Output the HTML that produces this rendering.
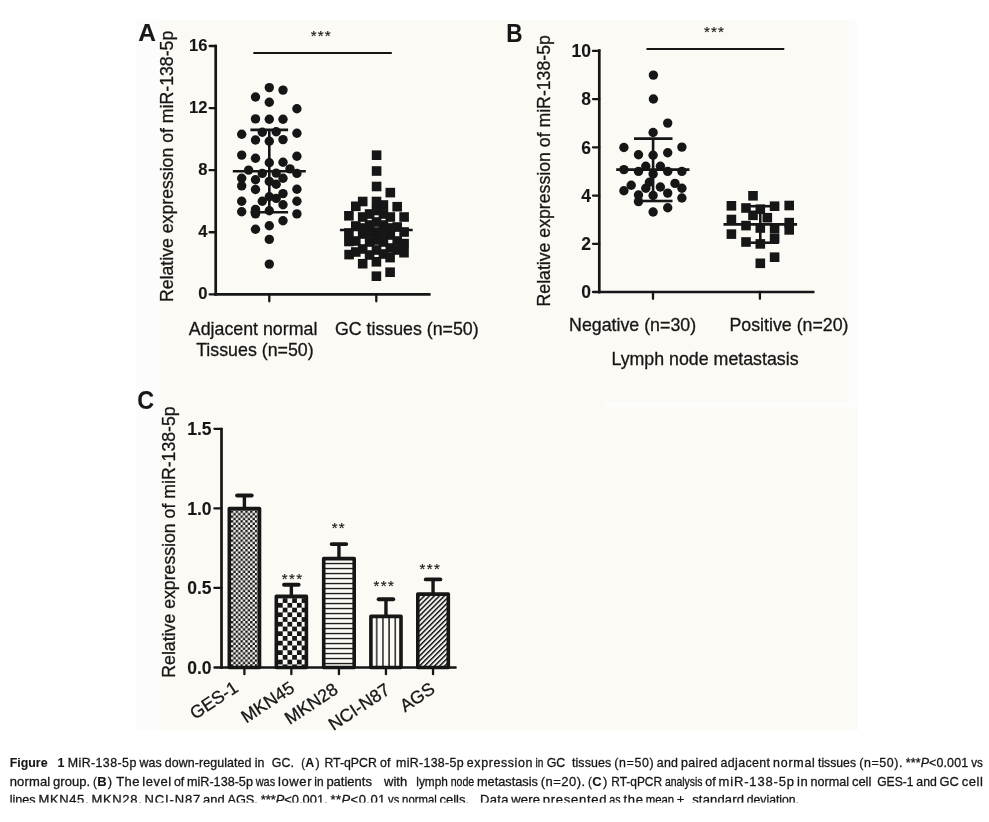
<!DOCTYPE html>
<html><head><meta charset="utf-8"><style>
html,body{margin:0;padding:0;background:#ffffff;width:989px;height:822px;overflow:hidden;}
svg{display:block;will-change:transform;}
text{font-family:"Liberation Sans",sans-serif;fill:#161616;stroke:#161616;stroke-width:0.3px;}
text[font-weight="bold"]{stroke-width:0.1px;}
</style></head><body>
<svg width="989" height="822" viewBox="0 0 989 822">
<rect x="136" y="20" width="721" height="709.4" fill="#fcfcfd"/>
<rect x="160" y="20" width="688" height="382.6" fill="#fcfaf5"/>
<rect x="160" y="402.6" width="697.5" height="327.6" fill="#fcfaf5"/>
<rect x="605.5" y="402.6" width="252" height="5.2" fill="#fdfdfb"/>
<text x="138.2" y="40.8" font-size="24.5" font-weight="bold" text-anchor="start" >A</text>
<line x1="215.7" y1="44.7" x2="215.7" y2="295.6" stroke="#161616" stroke-width="2.7" stroke-linecap="butt"/>
<line x1="209.6" y1="294.3" x2="215.7" y2="294.3" stroke="#161616" stroke-width="2.3" stroke-linecap="round"/>
<text x="207.5" y="299.40000000000003" font-size="16.6" font-weight="bold" text-anchor="end" >0</text>
<line x1="209.6" y1="232.23000000000002" x2="215.7" y2="232.23000000000002" stroke="#161616" stroke-width="2.3" stroke-linecap="round"/>
<text x="207.5" y="237.33" font-size="16.6" font-weight="bold" text-anchor="end" >4</text>
<line x1="209.6" y1="170.16000000000003" x2="215.7" y2="170.16000000000003" stroke="#161616" stroke-width="2.3" stroke-linecap="round"/>
<text x="207.5" y="175.26000000000002" font-size="16.6" font-weight="bold" text-anchor="end" >8</text>
<line x1="209.6" y1="108.09" x2="215.7" y2="108.09" stroke="#161616" stroke-width="2.3" stroke-linecap="round"/>
<text x="207.5" y="113.19" font-size="16.6" font-weight="bold" text-anchor="end" >12</text>
<line x1="209.6" y1="46.02000000000001" x2="215.7" y2="46.02000000000001" stroke="#161616" stroke-width="2.3" stroke-linecap="round"/>
<text x="207.5" y="51.12000000000001" font-size="16.6" font-weight="bold" text-anchor="end" >16</text>
<line x1="214.4" y1="294.3" x2="430.6" y2="294.3" stroke="#161616" stroke-width="2.7" stroke-linecap="butt"/>
<line x1="269.3" y1="294.3" x2="269.3" y2="301.3" stroke="#161616" stroke-width="2.3" stroke-linecap="round"/>
<line x1="376.3" y1="294.3" x2="376.3" y2="301.3" stroke="#161616" stroke-width="2.3" stroke-linecap="round"/>
<line x1="253.3" y1="53.0" x2="391.8" y2="53.0" stroke="#161616" stroke-width="2.2" stroke-linecap="butt"/>
<text x="310.8" y="40.8" font-size="15.2" font-weight="normal" text-anchor="start" letter-spacing="1.1" style="stroke-width:0.15px">***</text>
<text transform="translate(173.2,166.4) rotate(-90)" font-size="17.7" text-anchor="middle">Relative expression of miR-138-5p</text>
<text x="253.1" y="334.9" font-size="17.8" font-weight="normal" text-anchor="middle" >Adjacent normal</text>
<text x="254.9" y="355.6" font-size="17.8" font-weight="normal" text-anchor="middle" >Tissues (n=50)</text>
<text x="406.8" y="334.9" font-size="17.8" font-weight="normal" text-anchor="middle" >GC tissues (n=50)</text>
<circle cx="269.3" cy="87.6" r="4.7" fill="#161616"/>
<circle cx="283.0" cy="90.1" r="4.7" fill="#161616"/>
<circle cx="255.5" cy="97.0" r="4.7" fill="#161616"/>
<circle cx="269.3" cy="102.2" r="4.7" fill="#161616"/>
<circle cx="296.9" cy="108.7" r="4.7" fill="#161616"/>
<circle cx="255.5" cy="118.9" r="4.7" fill="#161616"/>
<circle cx="269.3" cy="119.3" r="4.7" fill="#161616"/>
<circle cx="283.0" cy="119.3" r="4.7" fill="#161616"/>
<circle cx="262.3" cy="132.3" r="4.7" fill="#161616"/>
<circle cx="276.2" cy="131.8" r="4.7" fill="#161616"/>
<circle cx="241.7" cy="134.2" r="4.7" fill="#161616"/>
<circle cx="296.9" cy="133.3" r="4.7" fill="#161616"/>
<circle cx="255.5" cy="140" r="4.7" fill="#161616"/>
<circle cx="269.3" cy="141.2" r="4.7" fill="#161616"/>
<circle cx="283.0" cy="139.6" r="4.7" fill="#161616"/>
<circle cx="241.7" cy="155.1" r="4.7" fill="#161616"/>
<circle cx="255.5" cy="158.3" r="4.7" fill="#161616"/>
<circle cx="296.9" cy="156.3" r="4.7" fill="#161616"/>
<circle cx="269.3" cy="162.8" r="4.7" fill="#161616"/>
<circle cx="283.0" cy="162.2" r="4.7" fill="#161616"/>
<circle cx="248.6" cy="170.1" r="4.7" fill="#161616"/>
<circle cx="290.0" cy="168.9" r="4.7" fill="#161616"/>
<circle cx="262.3" cy="173.4" r="4.7" fill="#161616"/>
<circle cx="276.2" cy="173.1" r="4.7" fill="#161616"/>
<circle cx="296.9" cy="173.4" r="4.7" fill="#161616"/>
<circle cx="241.7" cy="178.2" r="4.7" fill="#161616"/>
<circle cx="255.5" cy="179.8" r="4.7" fill="#161616"/>
<circle cx="283.0" cy="178.2" r="4.7" fill="#161616"/>
<circle cx="269.3" cy="181.4" r="4.7" fill="#161616"/>
<circle cx="276.2" cy="184.3" r="4.7" fill="#161616"/>
<circle cx="241.7" cy="185.9" r="4.7" fill="#161616"/>
<circle cx="255.5" cy="189.5" r="4.7" fill="#161616"/>
<circle cx="296.9" cy="189.2" r="4.7" fill="#161616"/>
<circle cx="283.0" cy="193.6" r="4.7" fill="#161616"/>
<circle cx="269.3" cy="196.8" r="4.7" fill="#161616"/>
<circle cx="276.2" cy="198.4" r="4.7" fill="#161616"/>
<circle cx="262.3" cy="201.3" r="4.7" fill="#161616"/>
<circle cx="241.7" cy="201.3" r="4.7" fill="#161616"/>
<circle cx="296.9" cy="201.3" r="4.7" fill="#161616"/>
<circle cx="283.0" cy="204.7" r="4.7" fill="#161616"/>
<circle cx="255.5" cy="209.4" r="4.7" fill="#161616"/>
<circle cx="241.7" cy="211.8" r="4.7" fill="#161616"/>
<circle cx="255.5" cy="213.9" r="4.7" fill="#161616"/>
<circle cx="269.3" cy="210.8" r="4.7" fill="#161616"/>
<circle cx="296.9" cy="213.9" r="4.7" fill="#161616"/>
<circle cx="283.0" cy="220.8" r="4.7" fill="#161616"/>
<circle cx="269.3" cy="225.7" r="4.7" fill="#161616"/>
<circle cx="255.5" cy="229.3" r="4.7" fill="#161616"/>
<circle cx="269.3" cy="239.4" r="4.7" fill="#161616"/>
<circle cx="269.3" cy="264.1" r="4.7" fill="#161616"/>
<line x1="232.8" y1="171.3" x2="305.8" y2="171.3" stroke="#161616" stroke-width="2.6" stroke-linecap="butt"/>
<line x1="250.4" y1="129.9" x2="288.1" y2="129.9" stroke="#161616" stroke-width="2.6" stroke-linecap="butt"/>
<line x1="250.4" y1="212.3" x2="288.1" y2="212.3" stroke="#161616" stroke-width="2.6" stroke-linecap="butt"/>
<line x1="269.3" y1="129.9" x2="269.3" y2="212.3" stroke="#161616" stroke-width="2.6" stroke-linecap="butt"/>
<rect x="371.80" y="150.40" width="9.6" height="9.6" fill="#161616"/>
<rect x="371.80" y="166.20" width="9.6" height="9.6" fill="#161616"/>
<rect x="371.80" y="181.70" width="9.6" height="9.6" fill="#161616"/>
<rect x="385.50" y="187.80" width="9.6" height="9.6" fill="#161616"/>
<rect x="357.90" y="196.70" width="9.6" height="9.6" fill="#161616"/>
<rect x="371.70" y="196.70" width="9.6" height="9.6" fill="#161616"/>
<rect x="351.00" y="201.50" width="9.6" height="9.6" fill="#161616"/>
<rect x="392.40" y="201.90" width="9.6" height="9.6" fill="#161616"/>
<rect x="378.60" y="200.20" width="9.6" height="9.6" fill="#161616"/>
<rect x="344.10" y="211.00" width="9.6" height="9.6" fill="#161616"/>
<rect x="399.30" y="212.20" width="9.6" height="9.6" fill="#161616"/>
<rect x="364.80" y="209.20" width="9.6" height="9.6" fill="#161616"/>
<rect x="378.60" y="209.20" width="9.6" height="9.6" fill="#161616"/>
<rect x="357.90" y="212.20" width="9.6" height="9.6" fill="#161616"/>
<rect x="385.50" y="212.20" width="9.6" height="9.6" fill="#161616"/>
<rect x="351.00" y="221.20" width="9.6" height="9.6" fill="#161616"/>
<rect x="392.40" y="222.20" width="9.6" height="9.6" fill="#161616"/>
<rect x="364.80" y="220.20" width="9.6" height="9.6" fill="#161616"/>
<rect x="378.60" y="220.20" width="9.6" height="9.6" fill="#161616"/>
<rect x="371.70" y="217.20" width="9.6" height="9.6" fill="#161616"/>
<rect x="344.10" y="228.20" width="9.6" height="9.6" fill="#161616"/>
<rect x="399.30" y="227.20" width="9.6" height="9.6" fill="#161616"/>
<rect x="357.90" y="229.20" width="9.6" height="9.6" fill="#161616"/>
<rect x="371.70" y="227.20" width="9.6" height="9.6" fill="#161616"/>
<rect x="385.50" y="230.20" width="9.6" height="9.6" fill="#161616"/>
<rect x="351.00" y="236.20" width="9.6" height="9.6" fill="#161616"/>
<rect x="392.40" y="236.20" width="9.6" height="9.6" fill="#161616"/>
<rect x="364.80" y="237.20" width="9.6" height="9.6" fill="#161616"/>
<rect x="378.60" y="237.20" width="9.6" height="9.6" fill="#161616"/>
<rect x="344.10" y="236.70" width="9.6" height="9.6" fill="#161616"/>
<rect x="399.30" y="238.80" width="9.6" height="9.6" fill="#161616"/>
<rect x="357.90" y="244.20" width="9.6" height="9.6" fill="#161616"/>
<rect x="385.50" y="243.20" width="9.6" height="9.6" fill="#161616"/>
<rect x="371.70" y="245.20" width="9.6" height="9.6" fill="#161616"/>
<rect x="344.30" y="249.80" width="9.6" height="9.6" fill="#161616"/>
<rect x="399.20" y="247.90" width="9.6" height="9.6" fill="#161616"/>
<rect x="351.00" y="247.20" width="9.6" height="9.6" fill="#161616"/>
<rect x="392.40" y="245.20" width="9.6" height="9.6" fill="#161616"/>
<rect x="357.90" y="258.90" width="9.6" height="9.6" fill="#161616"/>
<rect x="371.60" y="257.00" width="9.6" height="9.6" fill="#161616"/>
<rect x="385.30" y="252.80" width="9.6" height="9.6" fill="#161616"/>
<rect x="371.60" y="271.40" width="9.6" height="9.6" fill="#161616"/>
<rect x="385.30" y="267.40" width="9.6" height="9.6" fill="#161616"/>
<rect x="364.80" y="250.20" width="9.6" height="9.6" fill="#161616"/>
<rect x="378.60" y="249.20" width="9.6" height="9.6" fill="#161616"/>
<rect x="357.90" y="223.20" width="9.6" height="9.6" fill="#161616"/>
<rect x="385.50" y="223.20" width="9.6" height="9.6" fill="#161616"/>
<rect x="371.70" y="235.20" width="9.6" height="9.6" fill="#161616"/>
<rect x="364.80" y="228.20" width="9.6" height="9.6" fill="#161616"/>
<rect x="378.60" y="228.20" width="9.6" height="9.6" fill="#161616"/>
<rect x="371.70" y="205.70" width="9.6" height="9.6" fill="#161616"/>
<line x1="339.9" y1="230.0" x2="412.7" y2="230.0" stroke="#161616" stroke-width="2.6" stroke-linecap="butt"/>
<text transform="translate(506.3,41.9) scale(0.92,1.04)" font-size="24.5" font-weight="bold">B</text>
<line x1="599.3" y1="49.2" x2="599.3" y2="293.3" stroke="#161616" stroke-width="2.7" stroke-linecap="butt"/>
<line x1="593.0" y1="292.0" x2="599.3" y2="292.0" stroke="#161616" stroke-width="2.3" stroke-linecap="round"/>
<text x="591.0" y="298.27" font-size="17.5" font-weight="bold" text-anchor="end" >0</text>
<line x1="593.0" y1="243.78" x2="599.3" y2="243.78" stroke="#161616" stroke-width="2.3" stroke-linecap="round"/>
<text x="591.0" y="250.05" font-size="17.5" font-weight="bold" text-anchor="end" >2</text>
<line x1="593.0" y1="195.56" x2="599.3" y2="195.56" stroke="#161616" stroke-width="2.3" stroke-linecap="round"/>
<text x="591.0" y="201.83" font-size="17.5" font-weight="bold" text-anchor="end" >4</text>
<line x1="593.0" y1="147.34" x2="599.3" y2="147.34" stroke="#161616" stroke-width="2.3" stroke-linecap="round"/>
<text x="591.0" y="153.61" font-size="17.5" font-weight="bold" text-anchor="end" >6</text>
<line x1="593.0" y1="99.12" x2="599.3" y2="99.12" stroke="#161616" stroke-width="2.3" stroke-linecap="round"/>
<text x="591.0" y="105.39" font-size="17.5" font-weight="bold" text-anchor="end" >8</text>
<line x1="593.0" y1="50.900000000000006" x2="599.3" y2="50.900000000000006" stroke="#161616" stroke-width="2.3" stroke-linecap="round"/>
<text x="591.0" y="57.17" font-size="17.5" font-weight="bold" text-anchor="end" >10</text>
<line x1="598.0" y1="292.0" x2="814.5" y2="292.0" stroke="#161616" stroke-width="2.7" stroke-linecap="butt"/>
<line x1="653.0" y1="292.0" x2="653.0" y2="298.8" stroke="#161616" stroke-width="2.3" stroke-linecap="round"/>
<line x1="759.9" y1="292.0" x2="759.9" y2="298.8" stroke="#161616" stroke-width="2.3" stroke-linecap="round"/>
<line x1="646.5" y1="49.0" x2="784.3" y2="49.0" stroke="#161616" stroke-width="2.2" stroke-linecap="butt"/>
<text x="703.9" y="37.1" font-size="15.2" font-weight="normal" text-anchor="start" letter-spacing="1.1" style="stroke-width:0.15px">***</text>
<text transform="translate(549.5,170.8) rotate(-90)" font-size="17.7" text-anchor="middle">Relative expression of miR-138-5p</text>
<text x="632.6" y="330.9" font-size="17.8" font-weight="normal" text-anchor="middle" >Negative (n=30)</text>
<text x="789.0" y="330.7" font-size="17.8" font-weight="normal" text-anchor="middle" >Positive (n=20)</text>
<text x="705.0" y="364.6" font-size="17.8" font-weight="normal" text-anchor="middle" >Lymph node metastasis</text>
<circle cx="653.4" cy="75.1" r="4.7" fill="#161616"/>
<circle cx="653.4" cy="99" r="4.7" fill="#161616"/>
<circle cx="667.7" cy="123.1" r="4.7" fill="#161616"/>
<circle cx="653.1" cy="132.5" r="4.7" fill="#161616"/>
<circle cx="623.9" cy="147.5" r="4.7" fill="#161616"/>
<circle cx="681.9" cy="147.1" r="4.7" fill="#161616"/>
<circle cx="638.5" cy="154.8" r="4.7" fill="#161616"/>
<circle cx="653.1" cy="155.3" r="4.7" fill="#161616"/>
<circle cx="667.7" cy="152.8" r="4.7" fill="#161616"/>
<circle cx="623.9" cy="169.6" r="4.7" fill="#161616"/>
<circle cx="645.8" cy="166.2" r="4.7" fill="#161616"/>
<circle cx="660.4" cy="166.2" r="4.7" fill="#161616"/>
<circle cx="638.5" cy="171.4" r="4.7" fill="#161616"/>
<circle cx="667.7" cy="171.4" r="4.7" fill="#161616"/>
<circle cx="681.9" cy="171.4" r="4.7" fill="#161616"/>
<circle cx="653.1" cy="173.9" r="4.7" fill="#161616"/>
<circle cx="631.2" cy="185.2" r="4.7" fill="#161616"/>
<circle cx="623.9" cy="190.7" r="4.7" fill="#161616"/>
<circle cx="645.8" cy="188.2" r="4.7" fill="#161616"/>
<circle cx="649.4" cy="182.2" r="4.7" fill="#161616"/>
<circle cx="660.4" cy="187" r="4.7" fill="#161616"/>
<circle cx="675" cy="183.4" r="4.7" fill="#161616"/>
<circle cx="681.9" cy="188.2" r="4.7" fill="#161616"/>
<circle cx="638.5" cy="195" r="4.7" fill="#161616"/>
<circle cx="653.1" cy="195.5" r="4.7" fill="#161616"/>
<circle cx="667.7" cy="193.1" r="4.7" fill="#161616"/>
<circle cx="681.9" cy="198" r="4.7" fill="#161616"/>
<circle cx="638.5" cy="201.6" r="4.7" fill="#161616"/>
<circle cx="653.1" cy="212" r="4.7" fill="#161616"/>
<circle cx="667.7" cy="207.7" r="4.7" fill="#161616"/>
<line x1="616.2" y1="169.6" x2="689.5" y2="169.6" stroke="#161616" stroke-width="2.6" stroke-linecap="butt"/>
<line x1="634.0" y1="138.6" x2="672.5" y2="138.6" stroke="#161616" stroke-width="2.6" stroke-linecap="butt"/>
<line x1="641.5" y1="201.0" x2="672.5" y2="201.0" stroke="#161616" stroke-width="2.6" stroke-linecap="butt"/>
<line x1="653.1" y1="138.6" x2="653.1" y2="201.0" stroke="#161616" stroke-width="2.6" stroke-linecap="butt"/>
<rect x="748.20" y="191.00" width="9.6" height="9.6" fill="#161616"/>
<rect x="726.60" y="201.00" width="9.6" height="9.6" fill="#161616"/>
<rect x="769.80" y="201.40" width="9.6" height="9.6" fill="#161616"/>
<rect x="784.40" y="200.70" width="9.6" height="9.6" fill="#161616"/>
<rect x="741.20" y="203.20" width="9.6" height="9.6" fill="#161616"/>
<rect x="755.50" y="204.40" width="9.6" height="9.6" fill="#161616"/>
<rect x="748.20" y="210.50" width="9.6" height="9.6" fill="#161616"/>
<rect x="762.50" y="212.90" width="9.6" height="9.6" fill="#161616"/>
<rect x="726.60" y="214.70" width="9.6" height="9.6" fill="#161616"/>
<rect x="784.40" y="217.80" width="9.6" height="9.6" fill="#161616"/>
<rect x="784.40" y="225.10" width="9.6" height="9.6" fill="#161616"/>
<rect x="741.20" y="220.80" width="9.6" height="9.6" fill="#161616"/>
<rect x="755.50" y="223.20" width="9.6" height="9.6" fill="#161616"/>
<rect x="769.80" y="223.90" width="9.6" height="9.6" fill="#161616"/>
<rect x="769.80" y="233.60" width="9.6" height="9.6" fill="#161616"/>
<rect x="726.60" y="229.30" width="9.6" height="9.6" fill="#161616"/>
<rect x="741.20" y="237.20" width="9.6" height="9.6" fill="#161616"/>
<rect x="755.50" y="239.10" width="9.6" height="9.6" fill="#161616"/>
<rect x="769.80" y="252.40" width="9.6" height="9.6" fill="#161616"/>
<rect x="755.50" y="258.50" width="9.6" height="9.6" fill="#161616"/>
<line x1="723.5" y1="224.4" x2="797.1" y2="224.4" stroke="#161616" stroke-width="2.6" stroke-linecap="butt"/>
<line x1="750.3" y1="206.2" x2="778.9" y2="206.2" stroke="#161616" stroke-width="2.6" stroke-linecap="butt"/>
<line x1="750.3" y1="242.7" x2="778.9" y2="242.7" stroke="#161616" stroke-width="2.6" stroke-linecap="butt"/>
<line x1="760.3" y1="206.2" x2="760.3" y2="242.7" stroke="#161616" stroke-width="2.6" stroke-linecap="butt"/>
<text transform="translate(137.3,409.0) scale(0.95,1.04)" font-size="24.5" font-weight="bold">C</text>
<line x1="221.5" y1="427.8" x2="221.5" y2="668.8" stroke="#161616" stroke-width="2.7"/>
<line x1="214.4" y1="667.5" x2="221.5" y2="667.5" stroke="#161616" stroke-width="2.3" stroke-linecap="round"/>
<text x="211.6" y="673.7" font-size="17.5" font-weight="bold" text-anchor="end" >0.0</text>
<line x1="214.4" y1="587.95" x2="221.5" y2="587.95" stroke="#161616" stroke-width="2.3" stroke-linecap="round"/>
<text x="211.6" y="594.1500000000001" font-size="17.5" font-weight="bold" text-anchor="end" >0.5</text>
<line x1="214.4" y1="508.4" x2="221.5" y2="508.4" stroke="#161616" stroke-width="2.3" stroke-linecap="round"/>
<text x="211.6" y="514.6" font-size="17.5" font-weight="bold" text-anchor="end" >1.0</text>
<line x1="214.4" y1="428.85" x2="221.5" y2="428.85" stroke="#161616" stroke-width="2.3" stroke-linecap="round"/>
<text x="211.6" y="435.05" font-size="17.5" font-weight="bold" text-anchor="end" >1.5</text>
<text transform="translate(175.1,542.0) rotate(-90)" font-size="17.7" text-anchor="middle">Relative expression of miR-138-5p</text>
<defs>
<pattern id="p1" patternUnits="userSpaceOnUse" width="4.8" height="4.8" x="230.9" y="510.6"><rect width="4.8" height="4.8" fill="#fcfaf5"/><rect width="2.4" height="2.4" fill="#161616"/><rect x="2.4" y="2.4" width="2.4" height="2.4" fill="#161616"/></pattern>
<pattern id="p2" patternUnits="userSpaceOnUse" width="9.46" height="9.46" x="278.0" y="598.2"><rect width="9.46" height="9.46" fill="#fcfaf5"/><rect x="4.73" width="4.73" height="4.73" fill="#161616"/><rect y="4.73" width="4.73" height="4.73" fill="#161616"/></pattern>
<pattern id="p3" patternUnits="userSpaceOnUse" width="10" height="5.0" x="0" y="560.95"><rect width="10" height="5.0" fill="#fcfaf5"/><rect y="1.9" width="10" height="1.35" fill="#161616"/></pattern>
<pattern id="p4" patternUnits="userSpaceOnUse" width="6.2" height="10" x="373.1" y="0"><rect width="6.2" height="10" fill="#fcfaf5"/><rect x="2.9" width="1.4" height="10" fill="#161616"/></pattern>
<pattern id="p5" patternUnits="userSpaceOnUse" width="3.55" height="3.55" x="0" y="0" patternTransform="rotate(45)"><rect width="3.55" height="3.55" fill="#fcfaf5"/><rect width="1.5" height="3.55" fill="#161616"/></pattern>
</defs>
<line x1="244.40" y1="495.5" x2="244.40" y2="507.8" stroke="#161616" stroke-width="3.4"/>
<line x1="237.10" y1="495.5" x2="251.70" y2="495.5" stroke="#161616" stroke-width="3.9" stroke-linecap="round"/>
<rect x="229.30" y="508.60" width="30.20" height="158.90" fill="url(#p1)" stroke="#161616" stroke-width="3.6" stroke-linejoin="round"/>
<line x1="244.4" y1="667.5" x2="244.4" y2="674.2" stroke="#161616" stroke-width="2.3" stroke-linecap="round"/>
<line x1="291.35" y1="584.8" x2="291.35" y2="595.6" stroke="#161616" stroke-width="3.4"/>
<line x1="284.05" y1="584.8" x2="298.65" y2="584.8" stroke="#161616" stroke-width="3.9" stroke-linecap="round"/>
<rect x="276.30" y="596.40" width="30.10" height="71.10" fill="url(#p2)" stroke="#161616" stroke-width="3.6" stroke-linejoin="round"/>
<line x1="291.35" y1="667.5" x2="291.35" y2="674.2" stroke="#161616" stroke-width="2.3" stroke-linecap="round"/>
<line x1="338.95" y1="544.1" x2="338.95" y2="557.8" stroke="#161616" stroke-width="3.4"/>
<line x1="331.65" y1="544.1" x2="346.25" y2="544.1" stroke="#161616" stroke-width="3.9" stroke-linecap="round"/>
<rect x="323.70" y="558.60" width="30.50" height="108.90" fill="url(#p3)" stroke="#161616" stroke-width="3.6" stroke-linejoin="round"/>
<line x1="338.95" y1="667.5" x2="338.95" y2="674.2" stroke="#161616" stroke-width="2.3" stroke-linecap="round"/>
<line x1="385.95" y1="599.3" x2="385.95" y2="615.6" stroke="#161616" stroke-width="3.4"/>
<line x1="378.65" y1="599.3" x2="393.25" y2="599.3" stroke="#161616" stroke-width="3.9" stroke-linecap="round"/>
<rect x="370.90" y="616.40" width="30.10" height="51.10" fill="url(#p4)" stroke="#161616" stroke-width="3.6" stroke-linejoin="round"/>
<line x1="385.95000000000005" y1="667.5" x2="385.95000000000005" y2="674.2" stroke="#161616" stroke-width="2.3" stroke-linecap="round"/>
<line x1="433.05" y1="579.4" x2="433.05" y2="593.3" stroke="#161616" stroke-width="3.4"/>
<line x1="425.75" y1="579.4" x2="440.35" y2="579.4" stroke="#161616" stroke-width="3.9" stroke-linecap="round"/>
<rect x="417.80" y="594.10" width="30.50" height="73.40" fill="url(#p5)" stroke="#161616" stroke-width="3.6" stroke-linejoin="round"/>
<line x1="433.05" y1="667.5" x2="433.05" y2="674.2" stroke="#161616" stroke-width="2.3" stroke-linecap="round"/>
<line x1="220.3" y1="667.5" x2="456.6" y2="667.5" stroke="#161616" stroke-width="2.7" stroke-linecap="butt"/>
<text x="281.8" y="583.7" font-size="15.0" font-weight="normal" text-anchor="start" letter-spacing="1.35" style="stroke-width:0.15px">***</text>
<text x="331.8" y="533.3" font-size="15.0" font-weight="normal" text-anchor="start" letter-spacing="1.1" style="stroke-width:0.15px">**</text>
<text x="373.6" y="591.0" font-size="15.0" font-weight="normal" text-anchor="start" letter-spacing="1.35" style="stroke-width:0.15px">***</text>
<text x="419.6" y="573.7" font-size="15.0" font-weight="normal" text-anchor="start" letter-spacing="1.35" style="stroke-width:0.15px">***</text>
<text transform="translate(239.45,690.50) rotate(-33.5)" font-size="17.8" text-anchor="end">GES-1</text>
<text transform="translate(295.70,690.75) rotate(-33.5)" font-size="17.8" text-anchor="end">MKN45</text>
<text transform="translate(339.20,692.25) rotate(-33.5)" font-size="17.8" text-anchor="end">MKN28</text>
<text transform="translate(391.25,692.85) rotate(-33.5)" font-size="17.8" text-anchor="end">NCI-N87</text>
<text transform="translate(436.25,691.80) rotate(-33.5)" font-size="17.8" text-anchor="end">AGS</text>
<g fill="#1e1e1e" style="stroke-width:0.28px"><text x="9.7" y="767" font-size="12.4" font-weight="bold">Figure</text><text x="57.6" y="767" font-size="12.4" font-weight="bold">1</text><text x="67.7" y="767" font-size="12.4" textLength="68.6" lengthAdjust="spacing">MiR-138-5p</text><text x="139.5" y="767" font-size="12.4" textLength="22.1" lengthAdjust="spacing">was</text><text x="164.8" y="767" font-size="12.4" textLength="86.7" lengthAdjust="spacing">down-regulated</text><text x="254.7" y="767" font-size="12.4">in</text><text x="271.8" y="767" font-size="12.4">GC.</text><text x="301.2" y="767" font-size="12.4" textLength="3.7" lengthAdjust="spacingAndGlyphs">(</text><text x="305.2" y="767" font-size="12.4" font-weight="bold">A</text><text x="315.4" y="767" font-size="12.4">)</text><text x="324.4" y="767" font-size="12.4" textLength="52.4" lengthAdjust="spacingAndGlyphs">RT-qPCR</text><text x="380" y="767" font-size="12.4">of</text><text x="396.1" y="767" font-size="12.4" textLength="67.5" lengthAdjust="spacing">miR-138-5p</text><text x="466.8" y="767" font-size="12.4" textLength="65.6" lengthAdjust="spacing">expression</text><text x="535.6" y="767" font-size="12.4" textLength="7.9" lengthAdjust="spacingAndGlyphs">in</text><text x="546.7" y="767" font-size="12.4">GC</text><text x="572" y="767" font-size="12.4" textLength="39.1" lengthAdjust="spacing">tissues</text><text x="614.3" y="767" font-size="12.4" textLength="39.3" lengthAdjust="spacing">(n=50)</text><text x="656.8" y="767" font-size="12.4" textLength="21.1" lengthAdjust="spacing">and</text><text x="681.1" y="767" font-size="12.4" textLength="36.2" lengthAdjust="spacing">paired</text><text x="720.5" y="767" font-size="12.4" textLength="49.4" lengthAdjust="spacing">adjacent</text><text x="773.1" y="767" font-size="12.4" textLength="41.7" lengthAdjust="spacing">normal</text><text x="818" y="767" font-size="12.4" textLength="38.0" lengthAdjust="spacingAndGlyphs">tissues</text><text x="859.2" y="767" font-size="12.4" textLength="43.3" lengthAdjust="spacing">(n=50).</text><text x="905.7" y="767" font-size="12.4" textLength="62.4" lengthAdjust="spacing">***<tspan font-style="italic">P</tspan>&lt;0.001</text><text x="971.3" y="767" font-size="12.4" textLength="11.6" lengthAdjust="spacingAndGlyphs">vs</text><text x="9.7" y="785.6" font-size="13.0" textLength="40.5" lengthAdjust="spacing">normal</text><text x="53" y="785.6" font-size="13.0" textLength="37.2" lengthAdjust="spacing">group.</text><text x="93" y="785.6" font-size="13.0" textLength="3.9" lengthAdjust="spacingAndGlyphs">(</text><text x="97.2" y="785.6" font-size="13.0" font-weight="bold">B</text><text x="107.8" y="785.6" font-size="13.0">)</text><text x="116.3" y="785.6" font-size="13.0" textLength="23.1" lengthAdjust="spacing">The</text><text x="142.2" y="785.6" font-size="13.0" textLength="28.9" lengthAdjust="spacing">level</text><text x="173.9" y="785.6" font-size="13.0" textLength="10.3" lengthAdjust="spacingAndGlyphs">of</text><text x="187" y="785.6" font-size="13.0" textLength="65.9" lengthAdjust="spacingAndGlyphs">miR-138-5p</text><text x="255.7" y="785.6" font-size="13.0" textLength="19.4" lengthAdjust="spacingAndGlyphs">was</text><text x="277.9" y="785.6" font-size="13.0" textLength="33.6" lengthAdjust="spacing">lower</text><text x="314.3" y="785.6" font-size="13.0" textLength="9.3" lengthAdjust="spacingAndGlyphs">in</text><text x="326.4" y="785.6" font-size="13.0">patients</text><text x="384.1" y="785.6" font-size="13.0">with</text><text x="416.3" y="785.6" font-size="13.0" textLength="31.6" lengthAdjust="spacingAndGlyphs">lymph</text><text x="450.7" y="785.6" font-size="13.0" textLength="23.5" lengthAdjust="spacingAndGlyphs">node</text><text x="477" y="785.6" font-size="13.0" textLength="60.9" lengthAdjust="spacingAndGlyphs">metastasis</text><text x="540.7" y="785.6" font-size="13.0" textLength="44.5" lengthAdjust="spacing">(n=20).</text><text x="588" y="785.6" font-size="13.0" textLength="3.9" lengthAdjust="spacingAndGlyphs">(</text><text x="592.2" y="785.6" font-size="13.0" font-weight="bold">C</text><text x="603" y="785.6" font-size="13.0">)</text><text x="611.3" y="785.6" font-size="13.0" textLength="50.8" lengthAdjust="spacingAndGlyphs">RT-qPCR</text><text x="664.9" y="785.6" font-size="13.0" textLength="37.6" lengthAdjust="spacingAndGlyphs">analysis</text><text x="705.3" y="785.6" font-size="13.0" textLength="10.4" lengthAdjust="spacingAndGlyphs">of</text><text x="718.5" y="785.6" font-size="13.0" textLength="75.6" lengthAdjust="spacing">miR-138-5p</text><text x="796.9" y="785.6" font-size="13.0" textLength="10.9" lengthAdjust="spacing">in</text><text x="810.6" y="785.6" font-size="13.0" textLength="38.5" lengthAdjust="spacingAndGlyphs">normal</text><text x="851.9" y="785.6" font-size="13.0">cell</text><text x="877.2" y="785.6" font-size="13.0" textLength="36.3" lengthAdjust="spacingAndGlyphs">GES-1</text><text x="916.3" y="785.6" font-size="13.0" textLength="20.5" lengthAdjust="spacingAndGlyphs">and</text><text x="939.6" y="785.6" font-size="13.0" textLength="19.3" lengthAdjust="spacingAndGlyphs">GC</text><text x="961.7" y="785.6" font-size="13.0" textLength="21.2" lengthAdjust="spacing">cell</text><text x="9.7" y="804.4" font-size="13.0" textLength="25.9" lengthAdjust="spacingAndGlyphs">lines</text><text x="38.4" y="804.4" font-size="13.0" textLength="50.2" lengthAdjust="spacing">MKN45,</text><text x="91.4" y="804.4" font-size="13.0" textLength="50.4" lengthAdjust="spacing">MKN28,</text><text x="144.6" y="804.4" font-size="13.0" textLength="55.7" lengthAdjust="spacing">NCI-N87</text><text x="203.1" y="804.4" font-size="13.0" textLength="21.5" lengthAdjust="spacingAndGlyphs">and</text><text x="227.4" y="804.4" font-size="13.0" textLength="30.5" lengthAdjust="spacingAndGlyphs">AGS.</text><text x="260.7" y="804.4" font-size="13.0" textLength="67.0" lengthAdjust="spacingAndGlyphs">***<tspan font-style="italic">P</tspan>&lt;0.001,</text><text x="330.5" y="804.4" font-size="13.0" textLength="54.8" lengthAdjust="spacing">**<tspan font-style="italic">P</tspan>&lt;0.01</text><text x="388.1" y="804.4" font-size="13.0" textLength="11.2" lengthAdjust="spacingAndGlyphs">vs</text><text x="402.1" y="804.4" font-size="13.0" textLength="34.6" lengthAdjust="spacingAndGlyphs">normal</text><text x="439.5" y="804.4" font-size="13.0">cells.</text><text x="480" y="804.4" font-size="13.0" textLength="28.5" lengthAdjust="spacing">Data</text><text x="511.3" y="804.4" font-size="13.0" textLength="28.6" lengthAdjust="spacing">were</text><text x="542.7" y="804.4" font-size="13.0" textLength="63.8" lengthAdjust="spacing">presented</text><text x="609.3" y="804.4" font-size="13.0" textLength="11.3" lengthAdjust="spacingAndGlyphs">as</text><text x="623.4" y="804.4" font-size="13.0" textLength="19.5" lengthAdjust="spacing">the</text><text x="645.7" y="804.4" font-size="13.0" textLength="28.5" lengthAdjust="spacingAndGlyphs">mean</text><text x="677" y="804.4" font-size="13.0">±</text><text x="692.2" y="804.4" font-size="13.0" textLength="51.8" lengthAdjust="spacing">standard</text><text x="746.8" y="804.4" font-size="13.0" textLength="52.2" lengthAdjust="spacingAndGlyphs">deviation.</text></g>
<rect x="0" y="802.6" width="989" height="20" fill="#ffffff"/>
</svg>
</body></html>
